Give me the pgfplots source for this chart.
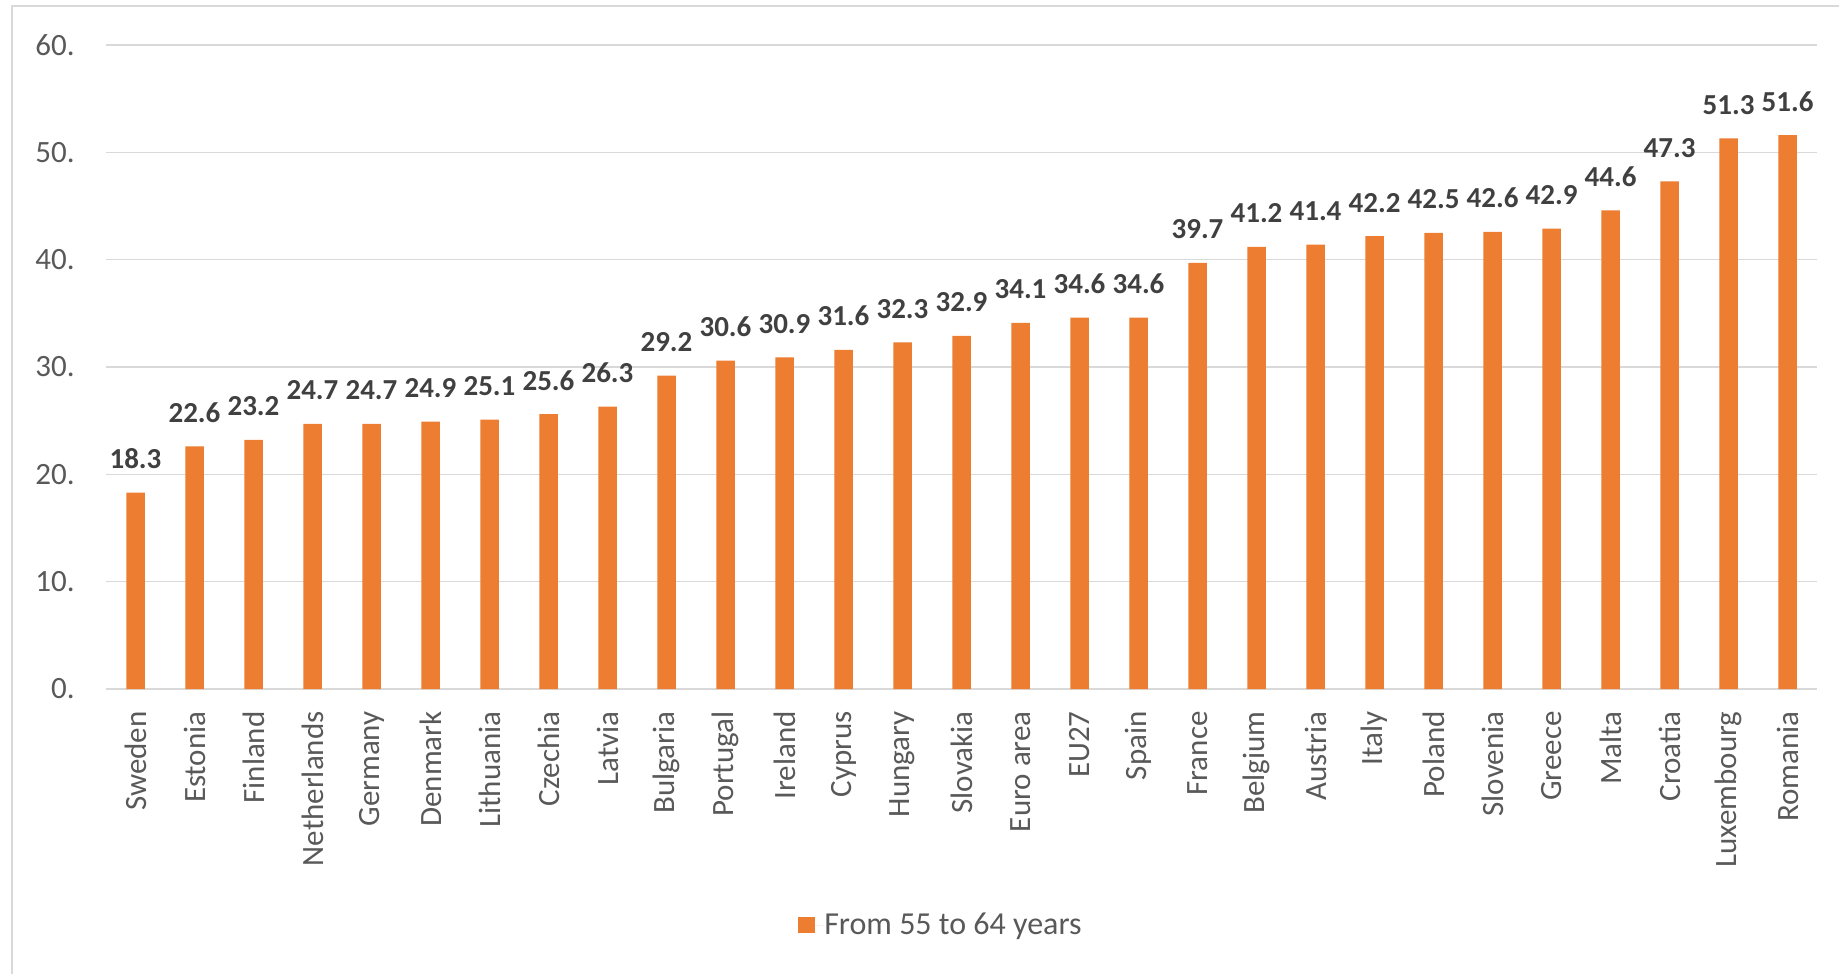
\documentclass[border=0pt]{standalone}
\usepackage{fontspec}
\setmainfont{Carlito}
\usepackage{pgfplots}
\pgfplotsset{compat=1.18}
\definecolor{barorange}{HTML}{ED7D31}
\definecolor{gridgray}{HTML}{D9D9D9}
\definecolor{tickgray}{HTML}{595959}
\definecolor{labelgray}{HTML}{404040}
\begin{document}
\begin{tikzpicture}
\useasboundingbox (0,0) rectangle (919.5pt,487pt);
% chart area border (left and top)
\draw[gridgray,line width=0.8pt] (6pt,0) -- (6pt,484pt) -- (919.5pt,484pt);
\begin{axis}[
  at={(53pt,142.5pt)},anchor=south west,
  scale only axis,width=855.5pt,height=322pt,
  ybar,bar width=9.25pt,
  xmin=-0.5,xmax=28.5,ymin=0,ymax=60,
  axis line style={draw=none},
  major tick length=0pt,
  ymajorgrids,grid style={gridgray,line width=0.8pt},
  ytick={0,10,...,60},
  yticklabels={0.,10.,20.,30.,40.,50.,60.},
  yticklabel style={font=\fontsize{15.5}{18}\selectfont,text=tickgray,inner sep=0pt},
  yticklabel shift=15.5pt,
  xtick={0,...,28},
  xticklabels={Sweden,Estonia,Finland,Netherlands,Germany,Denmark,Lithuania,Czechia,Latvia,Bulgaria,Portugal,Ireland,Cyprus,Hungary,Slovakia,Euro area,EU27,Spain,France,Belgium,Austria,Italy,Poland,Slovenia,Greece,Malta,Croatia,Luxembourg,Romania},
  xticklabel style={font=\fontsize{15.5}{18}\selectfont,text=tickgray,rotate=90,anchor=east,inner sep=0pt},
  xticklabel shift=11pt,
  nodes near coords,
  /pgf/number format/assume math mode=true,
  /pgf/number format/.cd,fixed,fixed zerofill,precision=1,/pgfplots/.cd,
  every node near coord/.append style={font=\bfseries\fontsize{14.5}{16}\selectfont,text=labelgray,anchor=base,yshift=12pt,inner sep=0pt},
  clip=false,
  legend style={draw=none,fill=none,at={(rel axis cs:0.4874,-0.3665)},anchor=center,
    font=\fontsize{16}{18}\selectfont,text=tickgray,inner sep=0pt,
    nodes={inner sep=0pt}},
  legend image code/.code={
    \fill[barorange] (0pt,-4.1pt) rectangle (8.2pt,4.1pt);
    \path (0pt,0pt) -- (13pt,0pt);},
]
\addplot[fill=barorange,draw=none] coordinates {
(0,18.3) (1,22.6) (2,23.2) (3,24.7) (4,24.7) (5,24.9) (6,25.1) (7,25.6) (8,26.3)
(9,29.2) (10,30.6) (11,30.9) (12,31.6) (13,32.3) (14,32.9) (15,34.1) (16,34.6)
(17,34.6) (18,39.7) (19,41.2) (20,41.4) (21,42.2) (22,42.5) (23,42.6) (24,42.9)
(25,44.6) (26,47.3) (27,51.3) (28,51.6)};
\addlegendentry{From 55 to 64 years}
\end{axis}
\end{tikzpicture}
\end{document}
